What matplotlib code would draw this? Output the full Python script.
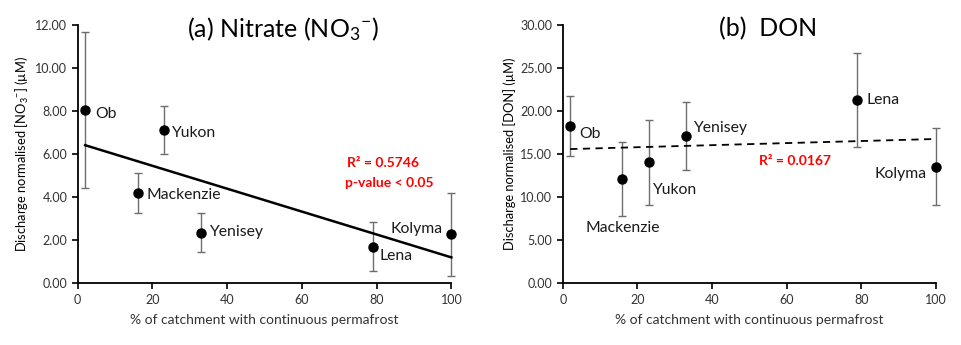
import numpy as np
import matplotlib
matplotlib.use("Agg")
import matplotlib.pyplot as plt

plt.rcParams['font.family'] = ['Lato', 'DejaVu Sans']
plt.rcParams['mathtext.fontset'] = 'custom'
plt.rcParams['mathtext.rm'] = 'Lato'
plt.rcParams['mathtext.it'] = 'Lato:italic'
plt.rcParams['mathtext.bf'] = 'Lato:bold'

rivers = ["Ob", "Mackenzie", "Yukon", "Yenisey", "Lena", "Kolyma"]
permafrost = [2, 16, 23, 33, 79, 100]

nitrate = [8.05, 4.18, 7.12, 2.35, 1.70, 2.28]
nitrate_err = [3.64, 0.93, 1.12, 0.90, 1.15, 1.92]

don = [18.31, 12.12, 14.05, 17.11, 21.29, 13.55]
don_err = [3.5, 4.26, 4.92, 3.97, 5.5, 4.47]

# label anchor positions (data coords) and alignment, per panel
nitrate_lab = [(4.6, 7.87, 'left'), (18.5, 4.10, 'left'), (25.0, 6.97, 'left'),
               (35.1, 2.40, 'left'), (80.7, 1.29, 'left'), (97.7, 2.54, 'right')]
don_lab = [(4.5, 17.34, 'left'), (6.0, 6.47, 'left'), (23.9, 10.84, 'left'),
           (35.0, 18.0, 'left'), (81.5, 21.29, 'left'), (97.6, 12.7, 'right')]


def panel(ax, y, err, labs, ymax, ystep, title, ylabel, dashed):
    ax.errorbar(permafrost, y, yerr=err, fmt='none', ecolor='#6e6e6e',
                elinewidth=1.0, capsize=3, capthick=1.0, zorder=2, clip_on=False)
    ax.plot(permafrost, y, 'o', color='black', markersize=6.5, zorder=4, clip_on=False)
    slope, icpt = np.polyfit(permafrost, y, 1)
    xs = np.array([permafrost[0], permafrost[-1]])
    if dashed:
        ax.plot(xs, slope * xs + icpt, color='black', lw=1.3, ls=(0, (4, 3)), zorder=3, clip_on=False)
    else:
        ax.plot(xs, slope * xs + icpt, color='black', lw=1.8, zorder=3, clip_on=False)
    for name, (lx, ly, ha) in zip(rivers, labs):
        ax.text(lx, ly, name, ha=ha, va='center', fontsize=11.3, color='#1a1a1a')
    ax.set_xlim(0, 100)
    ax.set_ylim(0, ymax)
    ax.set_xticks(np.arange(0, 101, 20))
    ax.set_yticks(np.arange(0, ymax + 0.01, ystep))
    ax.yaxis.set_major_formatter(matplotlib.ticker.FormatStrFormatter('%.2f'))
    ax.spines['top'].set_visible(False)
    ax.spines['right'].set_visible(False)
    for s in ('left', 'bottom'):
        ax.spines[s].set_linewidth(1.3)
    ax.tick_params(direction='out', length=4, width=1.2, labelsize=9, colors='black',
                   labelcolor='#333333')
    ax.set_xlabel("% of catchment with continuous permafrost", fontsize=10, color='#333333', labelpad=6)
    ax.set_ylabel(ylabel, fontsize=9.3, color='black', labelpad=3)
    ax.text(0.55, 0.985, title, transform=ax.transAxes, ha='center', va='center', fontsize=18)


fig = plt.figure(figsize=(9.62, 3.45), dpi=100)
ax1 = fig.add_axes([0.0808, 0.1788, 0.3884, 0.7487])
ax2 = fig.add_axes([0.585, 0.1788, 0.3877, 0.7487])

panel(ax1, nitrate, nitrate_err, nitrate_lab, 12, 2, r"(a) Nitrate (NO$_{3}$$^{-}$)",
      r"Discharge normalised [NO$_{3}$$^{-}$] (µM)", False)
ax1.text(81.8, 5.6, "R² = 0.5746", color='#ff0000', fontweight='bold', fontsize=10, ha='center', va='center')
ax1.text(83.3, 4.65, "p-value < 0.05", color='#ff0000', fontweight='bold', fontsize=10, ha='center', va='center')

panel(ax2, don, don_err, don_lab, 30, 5, "(b)  DON",
      "Discharge normalised [DON] (µM)", True)
ax2.text(62.3, 14.2, "R² = 0.0167", color='#ff0000', fontweight='bold', fontsize=10, ha='center', va='center')

fig.savefig("out.png", dpi=100)
